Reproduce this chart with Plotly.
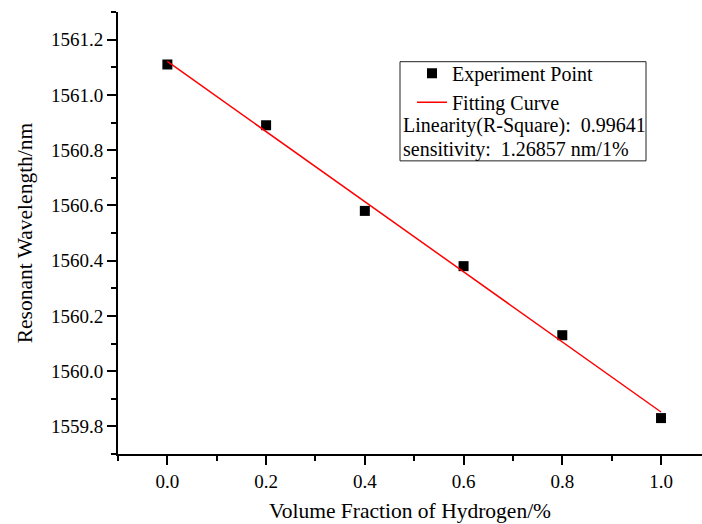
import plotly.graph_objects as go

# Data
volume_fraction = [0.0, 0.2, 0.4, 0.6, 0.8, 1.0]
resonant_wavelength = [1561.11, 1560.89, 1560.58, 1560.38, 1560.13, 1559.83]
fit_x = [0.0, 1.0]
fit_y = [1561.121, 1559.852]
r_square = "0.99641"
sensitivity = "1.26857 nm/1%"

FONT = "Liberation Serif, Times New Roman, serif"
NB = "\u00a0"

fig = go.Figure()
fig.add_trace(go.Scatter(
    x=volume_fraction, y=resonant_wavelength, mode="markers",
    name="Experiment Point",
    marker=dict(symbol="square", size=10, color="black", line=dict(width=0)),
))
fig.add_trace(go.Scatter(
    x=fit_x, y=fit_y, mode="lines", name="Fitting Curve",
    line=dict(color="red", width=1.5),
))

# plot area in window pixels (page body margin removed below)
L, T, R, B = 118, 12.4, 702, 453.6
W, H = R - L, B - T
FIG_W, FIG_H = 702, 524


def px(x):
    return (x - L) / W


def py(y):
    return 1 - (y - T) / H


axis_common = dict(
    showline=True, linecolor="black", linewidth=2,
    ticks="outside", ticklen=9, tickwidth=2, tickcolor="black",
    showgrid=False, zeroline=False,
    tickfont=dict(family=FONT, size=19, color="black"),
    tickformat=".1f",
    minor=dict(ticks="outside", ticklen=5, tickwidth=2, tickcolor="black", showgrid=False),
)

fig.update_xaxes(
    range=[-0.1, 1.083], dtick=0.2, tick0=0,
    title=dict(text="Volume Fraction of Hydrogen/%", font=dict(family=FONT, size=21.5, color="black"), standoff=12),
    **axis_common,
)
fig.update_xaxes(minor=dict(dtick=0.1, tick0=0))
fig.update_yaxes(
    range=[1559.7, 1561.3], dtick=0.2, tick0=1559.8,
    title=dict(text="Resonant Wavelength/nm", font=dict(family=FONT, size=21.5, color="black"), standoff=12),
    **axis_common,
)
fig.update_yaxes(minor=dict(dtick=0.1, tick0=1559.7))

fig.update_layout(
    width=FIG_W, height=FIG_H,
    margin=dict(l=L, r=FIG_W - R, t=T, b=FIG_H - B),
    paper_bgcolor="white", plot_bgcolor="white",
    font=dict(family=FONT, color="black"),
    showlegend=True,
    legend=dict(
        x=px(412), y=py(54), xanchor="left", yanchor="top",
        bgcolor="rgba(0,0,0,0)", borderwidth=0,
        font=dict(family=FONT, size=20, color="black"),
        itemwidth=30, tracegroupgap=0,
    ),
    shapes=[dict(
        type="rect", xref="paper", yref="paper",
        x0=px(400), x1=px(646), y0=py(161), y1=py(62),
        line=dict(color="#222", width=1), fillcolor="rgba(0,0,0,0)",
    )],
    annotations=[
        dict(text=f"Linearity(R-Square):{NB}{NB}{r_square}", xref="paper", yref="paper",
             x=px(401), y=py(126), xanchor="left", yanchor="middle", showarrow=False,
             font=dict(family=FONT, size=20, color="black")),
        dict(text=f"sensitivity:{NB}{NB}{sensitivity}", xref="paper", yref="paper",
             x=px(401), y=py(150), xanchor="left", yanchor="middle", showarrow=False,
             font=dict(family=FONT, size=20, color="black")),
    ],
)

fig.write_html(
    "out.html",
    config={"displayModeBar": False},
    post_script="document.body.style.margin='0';document.body.style.overflow='hidden';",
)
